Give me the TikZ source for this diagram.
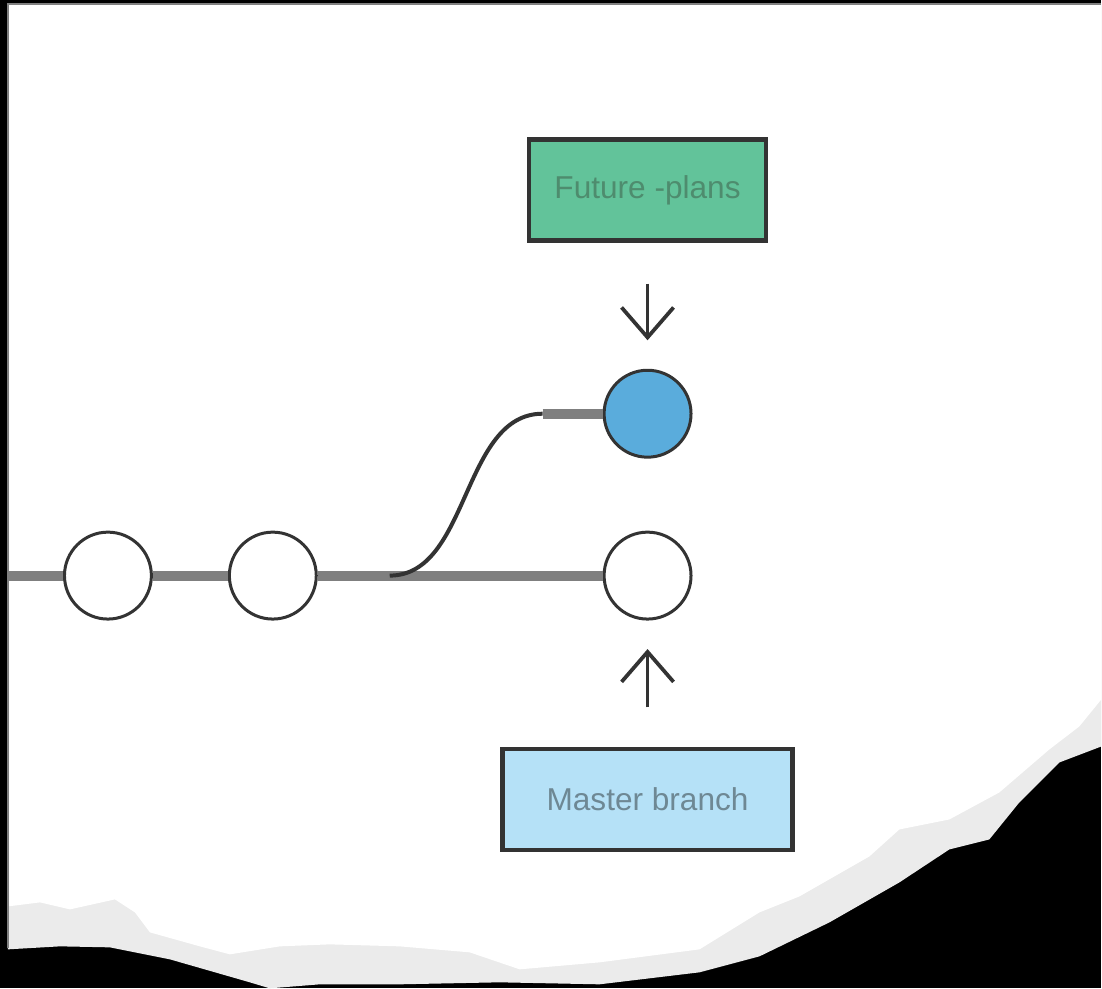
\documentclass[tikz,border=0pt]{standalone}
\usepackage{fontspec}
\setmainfont{Liberation Sans}
\usetikzlibrary{arrows.meta}

\definecolor{plansgreen}{HTML}{62C39A}
\definecolor{plansink}{HTML}{4E8C6E}
\definecolor{masterblue}{HTML}{B5E1F7}
\definecolor{masterink}{HTML}{6E8894}
\definecolor{headblue}{HTML}{5AACDC}
\definecolor{edgegray}{HTML}{333333}
\definecolor{trackgray}{HTML}{7F7F7F}
\definecolor{tornpaper}{HTML}{EBEBEB}

\begin{document}
\begin{tikzpicture}[x = 0.02cm, y = -0.02cm,
		commit/.style = {circle, draw = edgegray, line width = 0.06cm, fill = white, minimum size = 1.74cm, inner sep = 0pt},
		tagbox/.style = {rectangle, draw = edgegray, line width = 0.09cm, minimum height = 2.02cm, inner sep = 0pt, font = \fontsize{18}{20}\selectfont},
		track/.style = {trackgray, line width = 0.2cm},
		pointer/.style = {edgegray, line width = 0.075cm, -{Straight Barb[length = 0.6cm, width = 1.04cm]}}]
			\def\xMAX{1102};
			\def\yMAX{989};

			% black backdrop and torn sheet
			\fill[black] (0,0) rectangle (\xMAX,\yMAX);
			\fill[tornpaper] (8,4) -- (\xMAX,4) -- (\xMAX,747) -- (1060,763) -- (1020,803) -- (990,840) -- (950,850) -- (900,883) -- (830,923) -- (760,957) -- (700,973) -- (600,985) -- (500,983) -- (400,985) -- (320,985) -- (270,\yMAX) -- (250,983) -- (170,960) -- (110,948) -- (60,947) -- (8,950) -- cycle;
			\fill[white] (8,4) -- (\xMAX,4) -- (\xMAX,700) -- (1080,727) -- (1050,750) -- (1000,793) -- (950,820) -- (900,830) -- (870,857) -- (800,897) -- (760,913) -- (700,950) -- (600,963) -- (520,970) -- (470,953) -- (400,947) -- (330,945) -- (280,947) -- (230,955) -- (200,947) -- (150,933) -- (135,913) -- (115,900) -- (70,910) -- (40,903) -- (8,907) -- cycle;
			\draw[gray, line width = 0.03cm] (8,\yMAX-40) -- (8,4) -- (\xMAX,4);

			% commits
			\coordinate (edge) at (8,576);
			\node[commit] (c1) at (108,576) {};
			\node[commit] (c2) at (273,576) {};
			\node[commit] (c3) at (648,576) {};
			\node[commit, fill = headblue] (head) at (648,414) {};

			\begin{scope}
				\draw[track] (edge) -- (c1);
				\draw[track] (c1) -- (c2);
				\draw[track] (c2) -- (c3);
			\end{scope}

			\begin{scope}
				\coordinate (fork) at (390,576);
				\coordinate (bend) at (543,414);
				\draw[edgegray, line width = 0.08cm] (fork) .. controls +(80,0) and +(-81,0) .. (bend);
				\draw[track] (bend) -- (head);
			\end{scope}

			% labels
			\node[tagbox, fill = plansgreen, text = plansink, minimum width = 4.74cm] (plans) at (648,190) {Future -plans};
			\node[tagbox, fill = masterblue, text = masterink, minimum width = 5.8cm] (master) at (648,800) {Master branch};

			\draw[pointer, shorten < = 0.82cm, shorten > = 0.57cm] (plans) -- (head);
			\draw[pointer, shorten < = 0.79cm, shorten > = 0.57cm] (master) -- (c3);
		\end{tikzpicture}
\end{document}
